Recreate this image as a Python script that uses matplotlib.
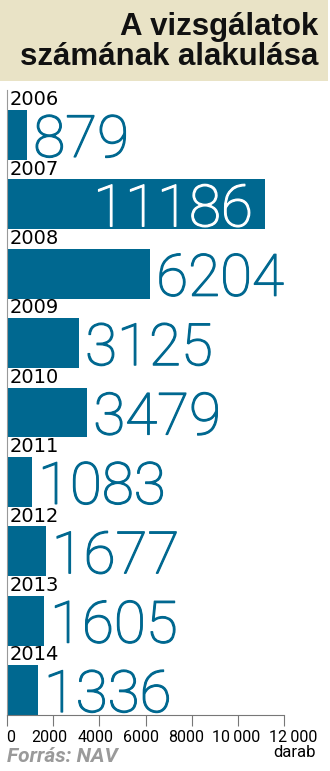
import matplotlib
matplotlib.use('agg')
import matplotlib.pyplot as plt
import matplotlib.patheffects as pe
import matplotlib.transforms as mtrans
from matplotlib.patches import Rectangle

## data
years = ['2006', '2007', '2008', '2009', '2010', '2011', '2012', '2013', '2014']
counts = [879, 11186, 6204, 3125, 3479, 1083, 1677, 1605, 1336]
xticks = [0, 2000, 4000, 6000, 8000, 10000, 12000]
xtick_labels = ['0', '2000', '4000', '6000', '8000', '10\u2009000', '12\u2009000']

teal = '#006890'
beige = '#e9e3c6'
W, H = 330, 771

fig = plt.figure(figsize=(W/100, H/100), dpi=100)

## title box
fig.patches.append(Rectangle((0, 1-81/H), 328/W, 81/H, transform=fig.transFigure,
                             facecolor=beige, edgecolor='none', zorder=0))
fig.text(318/W, 1-35/H, 'A vizsgálatok', ha='right', va='baseline',
         fontsize=22.5, fontweight='bold', family='Liberation Sans', color='#111111')
fig.text(318/W, 1-65/H, 'számának alakulása', ha='right', va='baseline',
         fontsize=22.5, fontweight='bold', family='Liberation Sans', color='#111111')

ax = fig.add_axes([7/W, 56/H, 277/W, 625/H])
pos = list(range(len(years)))
ax.barh(pos, counts, height=0.72, color=teal, zorder=2)
ax.set_ylim(8.36, -0.648)
ax.set_xlim(0, 12000)

px = 12000/277.0
thick = [pe.withStroke(linewidth=0.9, foreground=teal)]
thick_w = [pe.withStroke(linewidth=0.9, foreground='white')]
for i, (y, c) in enumerate(zip(years, counts)):
    ax.text(3*px, i-0.37, y, ha='left', va='bottom', fontsize=14,
            family='DejaVu Sans', color='black', zorder=3)
    if c > 9000:
        ax.text(c-12*px, i+0.317, str(c), ha='right', va='baseline', fontsize=42,
                family='Roboto', fontweight='light', color='white', zorder=3,
                path_effects=thick_w)
    else:
        ax.text(c+6*px, i+0.317, str(c), ha='left', va='baseline', fontsize=42,
                family='Roboto', fontweight='light', color=teal, zorder=3,
                path_effects=thick)

for s in ['top', 'right']:
    ax.spines[s].set_visible(False)
ax.spines['left'].set_color('#999999')
ax.spines['bottom'].set_color('#777777')
ax.set_yticks([])
ax.set_xticks(xticks)
ax.set_xticklabels(xtick_labels, family='Roboto', fontsize=11.5)
ax.tick_params(axis='x', length=8, color='#777777', pad=3)

## tick labels are nudged like in the printed graphic
shifts = [3.5, -4, -4, -4, -6, -2, 9]
for lab, dx in zip(ax.get_xticklabels(), shifts):
    lab.set_transform(lab.get_transform() +
                      mtrans.ScaledTranslation(dx/100, 0, fig.dpi_scale_trans))

fig.text(316/W, 1-757/H, 'darab', ha='right', va='baseline', fontsize=12,
         family='Roboto', color='black')
fig.text(7/W, 1-762/H, 'Forrás: NAV', ha='left', va='baseline', fontsize=15,
         family='Roboto', fontweight='bold', style='italic', color='#9a9a9a')

fig.savefig('out.png', dpi=100)
